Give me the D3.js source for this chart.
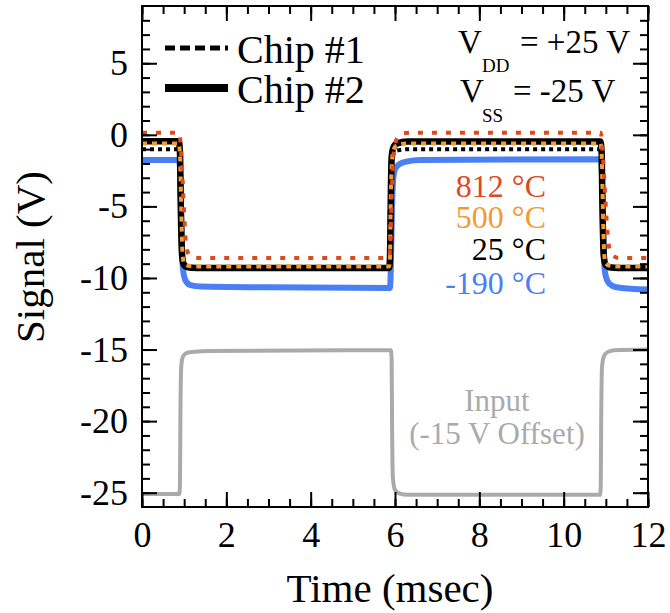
<!DOCTYPE html>
<html>
<head>
<meta charset="utf-8">
<script src="https://cdn.jsdelivr.net/npm/d3@7"></script>
<style>
  html, body { margin: 0; padding: 0; background: #fff; }
  svg { display: block; }
</style>
</head>
<body>
<svg id="chart" width="670" height="613"></svg>
<script>
// Output waveforms of the two inverter chips at several temperatures, [time ms, signal V]
const chip1_812C = [[0,0.15],[0.88,0.15],[0.92,-0.8],[0.96,-3],[1.0,-5.5],[1.04,-7.5],[1.1,-8.3],[1.2,-8.55],[1.4,-8.6],[5.86,-8.6],[5.89,-7.5],[5.92,-4.5],[5.95,-2],[6.0,-0.7],[6.08,-0.1],[6.2,0.1],[6.4,0.15],[10.88,0.15],[10.92,-1],[10.97,-3.5],[11.02,-6],[11.07,-7.7],[11.15,-8.4],[11.3,-8.6],[12,-8.6]];
const chip1_500C = [[0,-0.6],[0.87,-0.6],[0.9,-1.3],[0.93,-5],[0.96,-8.3],[1.0,-9.0],[1.1,-9.15],[1.3,-9.2],[5.86,-9.2],[5.88,-8.6],[5.9,-4.5],[5.93,-1.8],[5.97,-1.0],[6.06,-0.7],[6.3,-0.6],[10.87,-0.6],[10.9,-1.3],[10.93,-5],[10.96,-8.3],[11.0,-9.0],[11.1,-9.15],[11.3,-9.2],[12,-9.2]];
const chip1_25C = [[0,-1.0],[0.87,-1.0],[0.9,-1.6],[0.92,-5],[0.95,-8.5],[0.99,-9.15],[1.08,-9.3],[1.3,-9.35],[5.86,-9.35],[5.88,-8.8],[5.9,-4.5],[5.92,-2.0],[5.96,-1.35],[6.05,-1.1],[6.3,-1.0],[10.87,-1.0],[10.9,-1.6],[10.92,-5],[10.95,-8.5],[10.99,-9.15],[11.08,-9.3],[11.3,-9.35],[12,-9.35]];
const chip2_25C = [[0,-0.45],[0.87,-0.45],[0.9,-1.2],[0.92,-5],[0.95,-8.4],[0.99,-9.05],[1.08,-9.25],[1.3,-9.3],[5.86,-9.3],[5.88,-8.7],[5.9,-4.5],[5.92,-1.6],[5.96,-0.9],[6.05,-0.6],[6.3,-0.47],[10.87,-0.47],[10.9,-1.2],[10.92,-5],[10.95,-8.4],[10.99,-9.05],[11.08,-9.25],[11.3,-9.3],[12,-9.3]];
const chip2_m190C = [[0,-1.75],[0.88,-1.75],[0.91,-3],[0.93,-6],[0.96,-9],[1.0,-9.9],[1.06,-10.3],[1.15,-10.5],[1.4,-10.6],[3,-10.65],[5.88,-10.7],[5.9,-9.5],[5.93,-5],[5.96,-3],[6.0,-2.4],[6.1,-2.05],[6.3,-1.85],[6.6,-1.75],[10.88,-1.7],[10.91,-3],[10.93,-6],[10.96,-9],[11.0,-9.9],[11.08,-10.4],[11.25,-10.65],[11.6,-10.75],[12,-10.8]];
// Square-wave input, shown with a -15 V offset
const inputSignal = [[0,-25.1],[0.88,-25.1],[0.9,-24.5],[0.91,-20],[0.93,-16.2],[0.97,-15.5],[1.05,-15.25],[1.25,-15.15],[1.6,-15.1],[5.9,-15.05],[5.92,-15.6],[5.93,-20],[5.95,-24],[6.0,-24.8],[6.1,-25.05],[6.3,-25.15],[10.86,-25.15],[10.88,-24.5],[10.89,-20],[10.91,-16.2],[10.95,-15.5],[11.03,-15.2],[11.2,-15.05],[12,-15.0]];

const timeTicks = [0, 2, 4, 6, 8, 10, 12];
const signalTicks = [-25, -20, -15, -10, -5, 0, 5];
const tempLabels = ["812 °C", "500 °C", "25 °C", "-190 °C"];
const tempColors = ["#dc4a1f", "#f29a33", "#000000", "#4a80f4"];

const FONT = "'Liberation Serif', 'DejaVu Serif', 'Times New Roman', serif";
const svg = d3.select("#chart").attr("font-family", FONT);
const L = 142, R = 648, T = 6, B = 507;
const x = d3.scaleLinear().domain([0, 12]).range([L, R]);
const y = d3.scaleLinear().domain([-26, 9]).range([B, T]);
const fmt = d => String(d);

// clip traces to the frame
svg.append("defs").append("clipPath").attr("id", "plotClip")
  .append("rect").attr("x", L).attr("y", T).attr("width", R - L).attr("height", B - T);

const line = d3.line().x(d => x(d[0])).y(d => y(d[1])).curve(d3.curveMonotoneX);
const traces = svg.append("g").attr("clip-path", "url(#plotClip)");

const series = [
  { data: inputSignal, color: "#aaaaaa", width: 4, dash: null },
  { data: chip2_m190C, color: tempColors[3], width: 6, dash: null },
  { data: chip2_25C, color: "#000", width: 6.5, dash: null },
  { data: chip1_25C, color: "#000", width: 4, dash: "4,4" },
  { data: chip1_500C, color: tempColors[1], width: 4, dash: "5,5" },
  { data: chip1_812C, color: tempColors[0], width: 4, dash: "5,9" }
];
series.forEach(s => {
  traces.append("path").datum(s.data)
    .attr("d", line).attr("fill", "none")
    .attr("stroke", s.color).attr("stroke-width", s.width)
    .attr("stroke-dasharray", s.dash)
    .attr("stroke-linejoin", "round");
});

// axes with inward ticks, mirrored on top and right
const minorX = d3.range(0, 12.01, 0.5);
const minorY = d3.range(-25, 8.01, 1);
function styleAxis(g) {
  g.attr("font-family", FONT);
  g.select(".domain").remove();
  g.selectAll(".tick line").attr("stroke", "#000").attr("stroke-width", 2);
  g.selectAll("text").attr("font-size", 36).attr("fill", "#000").attr("font-family", FONT);
}
svg.append("g").attr("transform", `translate(0,${B})`)
  .call(d3.axisBottom(x).tickValues(minorX).tickSize(-8).tickFormat("")).call(styleAxis);
svg.append("g").attr("transform", `translate(0,${B})`)
  .call(d3.axisBottom(x).tickValues(timeTicks).tickSize(-15).tickPadding(14).tickFormat(fmt)).call(styleAxis);
svg.append("g").attr("transform", `translate(0,${T})`)
  .call(d3.axisTop(x).tickValues(minorX).tickSize(-8).tickFormat("")).call(styleAxis);
svg.append("g").attr("transform", `translate(0,${T})`)
  .call(d3.axisTop(x).tickValues(timeTicks).tickSize(-15).tickFormat("")).call(styleAxis);
svg.append("g").attr("transform", `translate(${L},0)`)
  .call(d3.axisLeft(y).tickValues(minorY).tickSize(-8).tickFormat("")).call(styleAxis);
svg.append("g").attr("transform", `translate(${L},0)`)
  .call(d3.axisLeft(y).tickValues(signalTicks).tickSize(-15).tickPadding(14).tickFormat(fmt)).call(styleAxis);
svg.append("g").attr("transform", `translate(${R},0)`)
  .call(d3.axisRight(y).tickValues(minorY).tickSize(-8).tickFormat("")).call(styleAxis);
svg.append("g").attr("transform", `translate(${R},0)`)
  .call(d3.axisRight(y).tickValues(signalTicks).tickSize(-15).tickFormat("")).call(styleAxis);

svg.append("rect").attr("x", L).attr("y", T).attr("width", R - L).attr("height", B - T)
  .attr("fill", "none").attr("stroke", "#000").attr("stroke-width", 2);

// axis titles
svg.append("text").attr("x", 390).attr("y", 602).attr("text-anchor", "middle")
  .attr("font-size", 41).text("Time (msec)");
svg.append("text").attr("transform", "translate(44,257) rotate(-90)").attr("text-anchor", "middle")
  .attr("font-size", 41).text("Signal (V)");

// legend for the two chips
const leg = svg.append("g");
leg.append("line").attr("x1", 165).attr("x2", 228).attr("y1", 48).attr("y2", 48)
  .attr("stroke", "#000").attr("stroke-width", 5).attr("stroke-dasharray", "10,5");
leg.append("line").attr("x1", 165).attr("x2", 228).attr("y1", 88).attr("y2", 88)
  .attr("stroke", "#000").attr("stroke-width", 8);
leg.append("text").attr("x", 237).attr("y", 63).attr("font-size", 40).text("Chip #1");
leg.append("text").attr("x", 237).attr("y", 103).attr("font-size", 40).text("Chip #2");

// supply voltages
const sup = svg.append("g").attr("fill", "#000");
sup.append("text").attr("x", 458).attr("y", 53).attr("font-size", 33).text("V");
sup.append("text").attr("x", 482).attr("y", 72).attr("font-size", 19).text("DD");
sup.append("text").attr("x", 520).attr("y", 53).attr("font-size", 33).text("= +25 V");
sup.append("text").attr("x", 460).attr("y", 102).attr("font-size", 33).text("V");
sup.append("text").attr("x", 482).attr("y", 122).attr("font-size", 19).text("SS");
sup.append("text").attr("x", 513).attr("y", 102).attr("font-size", 33).text("= -25 V");

// temperature labels
const tempY = [197, 228, 260, 294];
tempLabels.forEach((t, i) => {
  svg.append("text").attr("x", 546).attr("y", tempY[i]).attr("text-anchor", "end")
    .attr("font-size", 32).attr("fill", tempColors[i]).text(t);
});

// input annotation
svg.append("text").attr("x", 497).attr("y", 411).attr("text-anchor", "middle")
  .attr("font-size", 31).attr("fill", "#aaaaaa").text("Input");
svg.append("text").attr("x", 497).attr("y", 444).attr("text-anchor", "middle")
  .attr("font-size", 31).attr("fill", "#aaaaaa").text("(-15 V Offset)");
</script>
</body>
</html>
